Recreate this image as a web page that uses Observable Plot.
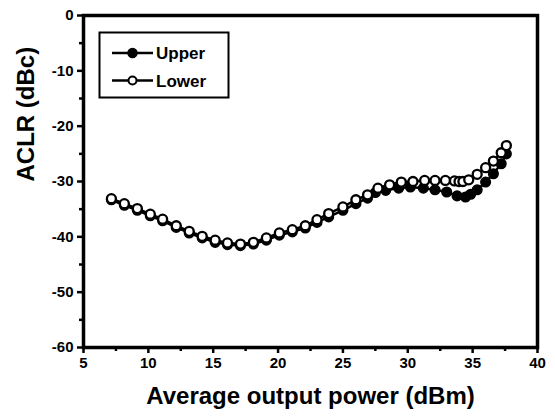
<!DOCTYPE html>
<html>
<head>
<meta charset="utf-8">
<script src="https://cdn.jsdelivr.net/npm/d3@7"></script>
<script src="https://cdn.jsdelivr.net/npm/@observablehq/plot@0.6"></script>
<style>
  html, body { margin: 0; padding: 0; background: #fff; }
  #wrap { position: relative; width: 555px; height: 419px; }
  #legend { position: absolute; left: 0; top: 0; }
  #wrap svg text { font-weight: bold; fill: #000; }
</style>
</head>
<body>
<div id="wrap"></div>
<script>
// Data
const lowerX = [7.15, 8.15, 9.15, 10.15, 11.1, 12.15, 13.15, 14.15, 15.15, 16.1, 17.1, 18.1, 19.1, 20.1, 21.1, 22.1, 23.0, 23.9, 25.0, 26.0, 26.9, 27.7, 28.6, 29.5, 30.4, 31.3, 32.1, 32.9, 33.6, 33.95, 34.25, 34.7, 35.35, 36.0, 36.6, 37.2, 37.6];
const lowerY = [-33.1, -34.0, -34.9, -35.9, -36.8, -38.0, -39.0, -39.9, -40.6, -41.1, -41.3, -41.0, -40.2, -39.3, -38.7, -38.0, -36.9, -35.8, -34.6, -33.3, -32.4, -31.2, -30.6, -30.1, -30.0, -29.8, -29.8, -29.8, -29.9, -30.0, -30.0, -29.7, -28.7, -27.5, -26.3, -24.8, -23.5];
const upperX = [7.15, 8.15, 9.15, 10.15, 11.1, 12.15, 13.15, 14.15, 15.15, 16.1, 17.1, 18.1, 19.1, 20.1, 21.1, 22.1, 23.0, 23.9, 25.0, 26.0, 26.9, 27.5, 28.3, 29.3, 30.2, 31.2, 32.1, 33.0, 33.8, 34.45, 34.85, 35.35, 36.0, 36.6, 37.2, 37.6];
const upperY = [-33.3, -34.3, -35.2, -36.2, -37.1, -38.3, -39.3, -40.2, -41.0, -41.4, -41.6, -41.3, -40.6, -39.7, -39.1, -38.4, -37.4, -36.4, -35.2, -34.0, -33.0, -32.0, -31.6, -31.2, -31.0, -31.2, -31.5, -31.9, -32.6, -32.8, -32.3, -31.5, -30.1, -28.6, -26.8, -25.0];
const xTicks = [5, 10, 15, 20, 25, 30, 35, 40];
const xMinor = [7.5, 12.5, 17.5, 22.5, 27.5, 32.5, 37.5];
const yTicks = [-60, -50, -40, -30, -20, -10, 0];
const yMinor = [-55, -45, -35, -25, -15, -5];
const seriesNames = ["Upper", "Lower"];

const upper = upperX.map((x, i) => ({x, y: upperY[i]}));
const lower = lowerX.map((x, i) => ({x, y: lowerY[i]}));

const font = "'Liberation Sans', Arial, sans-serif";

const chart = Plot.plot({
  width: 555,
  height: 419,
  marginLeft: 83,
  marginRight: 18,
  marginTop: 15,
  marginBottom: 72,
  style: {fontFamily: font, fontWeight: "bold", fontSize: "14px", color: "#000", background: "#fff"},
  x: {domain: [5, 40]},
  y: {domain: [-60, 0]},
  marks: [
    Plot.axisX({ticks: xTicks, tickSize: 6, tickPadding: 4, stroke: "#000", strokeOpacity: 1, strokeWidth: 2.5, fontSize: 15, fontWeight: "bold", fill: "#000", tickFormat: d => String(d), label: null}),
    Plot.axisX({ticks: xMinor, tickSize: 4, stroke: "#000", strokeOpacity: 1, strokeWidth: 2.5, tickFormat: null, text: null, label: null}),
    Plot.axisY({ticks: yTicks, tickSize: 6, tickPadding: 4, stroke: "#000", strokeOpacity: 1, strokeWidth: 2.5, fontSize: 15, fontWeight: "bold", fill: "#000", tickFormat: d => String(d), label: null}),
    Plot.axisY({ticks: yMinor, tickSize: 4, stroke: "#000", strokeOpacity: 1, strokeWidth: 2.5, tickFormat: null, text: null, label: null}),
    Plot.frame({stroke: "#000", strokeWidth: 3.5}),
    Plot.line(upper, {x: "x", y: "y", stroke: "#000", strokeWidth: 2.5}),
    Plot.dot(upper, {x: "x", y: "y", r: 4.8, fill: "#000", stroke: "#000", strokeWidth: 1.5}),
    Plot.line(lower, {x: "x", y: "y", stroke: "#000", strokeWidth: 2.5}),
    Plot.dot(lower, {x: "x", y: "y", r: 4.5, fill: "#fff", stroke: "#000", strokeWidth: 2.3}),
    Plot.text(["Average output power (dBm)"], {frameAnchor: "bottom", dy: 56, fontSize: 24, fontWeight: "bold", fill: "#000"}),
    Plot.text(["ACLR (dBc)"], {frameAnchor: "left", dx: -57, rotate: -90, fontSize: 24, fontWeight: "bold", fill: "#000"})
  ]
});

const wrap = document.getElementById("wrap");
wrap.appendChild(chart);

// Legend overlay
const ns = "http://www.w3.org/2000/svg";
const leg = document.createElementNS(ns, "svg");
leg.setAttribute("id", "legend");
leg.setAttribute("width", 555);
leg.setAttribute("height", 419);
leg.style.pointerEvents = "none";
const box = document.createElementNS(ns, "rect");
box.setAttribute("x", 99.5); box.setAttribute("y", 32.5);
box.setAttribute("width", 129); box.setAttribute("height", 65);
box.setAttribute("fill", "#fff"); box.setAttribute("stroke", "#000"); box.setAttribute("stroke-width", 2);
leg.appendChild(box);
seriesNames.forEach((name, i) => {
  const cy = 53 + i * 27.5;
  const ln = document.createElementNS(ns, "line");
  ln.setAttribute("x1", 112); ln.setAttribute("x2", 153);
  ln.setAttribute("y1", cy); ln.setAttribute("y2", cy);
  ln.setAttribute("stroke", "#000"); ln.setAttribute("stroke-width", 2.5);
  leg.appendChild(ln);
  const c = document.createElementNS(ns, "circle");
  c.setAttribute("cx", 132.5); c.setAttribute("cy", cy); c.setAttribute("r", i === 0 ? 4.5 : 4);
  c.setAttribute("fill", i === 0 ? "#000" : "#fff"); c.setAttribute("stroke", "#000"); c.setAttribute("stroke-width", i === 0 ? 1.5 : 2);
  leg.appendChild(c);
  const t = document.createElementNS(ns, "text");
  t.setAttribute("x", 156); t.setAttribute("y", cy + 6);
  t.setAttribute("font-family", font); t.setAttribute("font-weight", "bold"); t.setAttribute("font-size", 17);
  t.setAttribute("fill", "#000");
  t.textContent = name;
  leg.appendChild(t);
});
wrap.appendChild(leg);
</script>
</body>
</html>
